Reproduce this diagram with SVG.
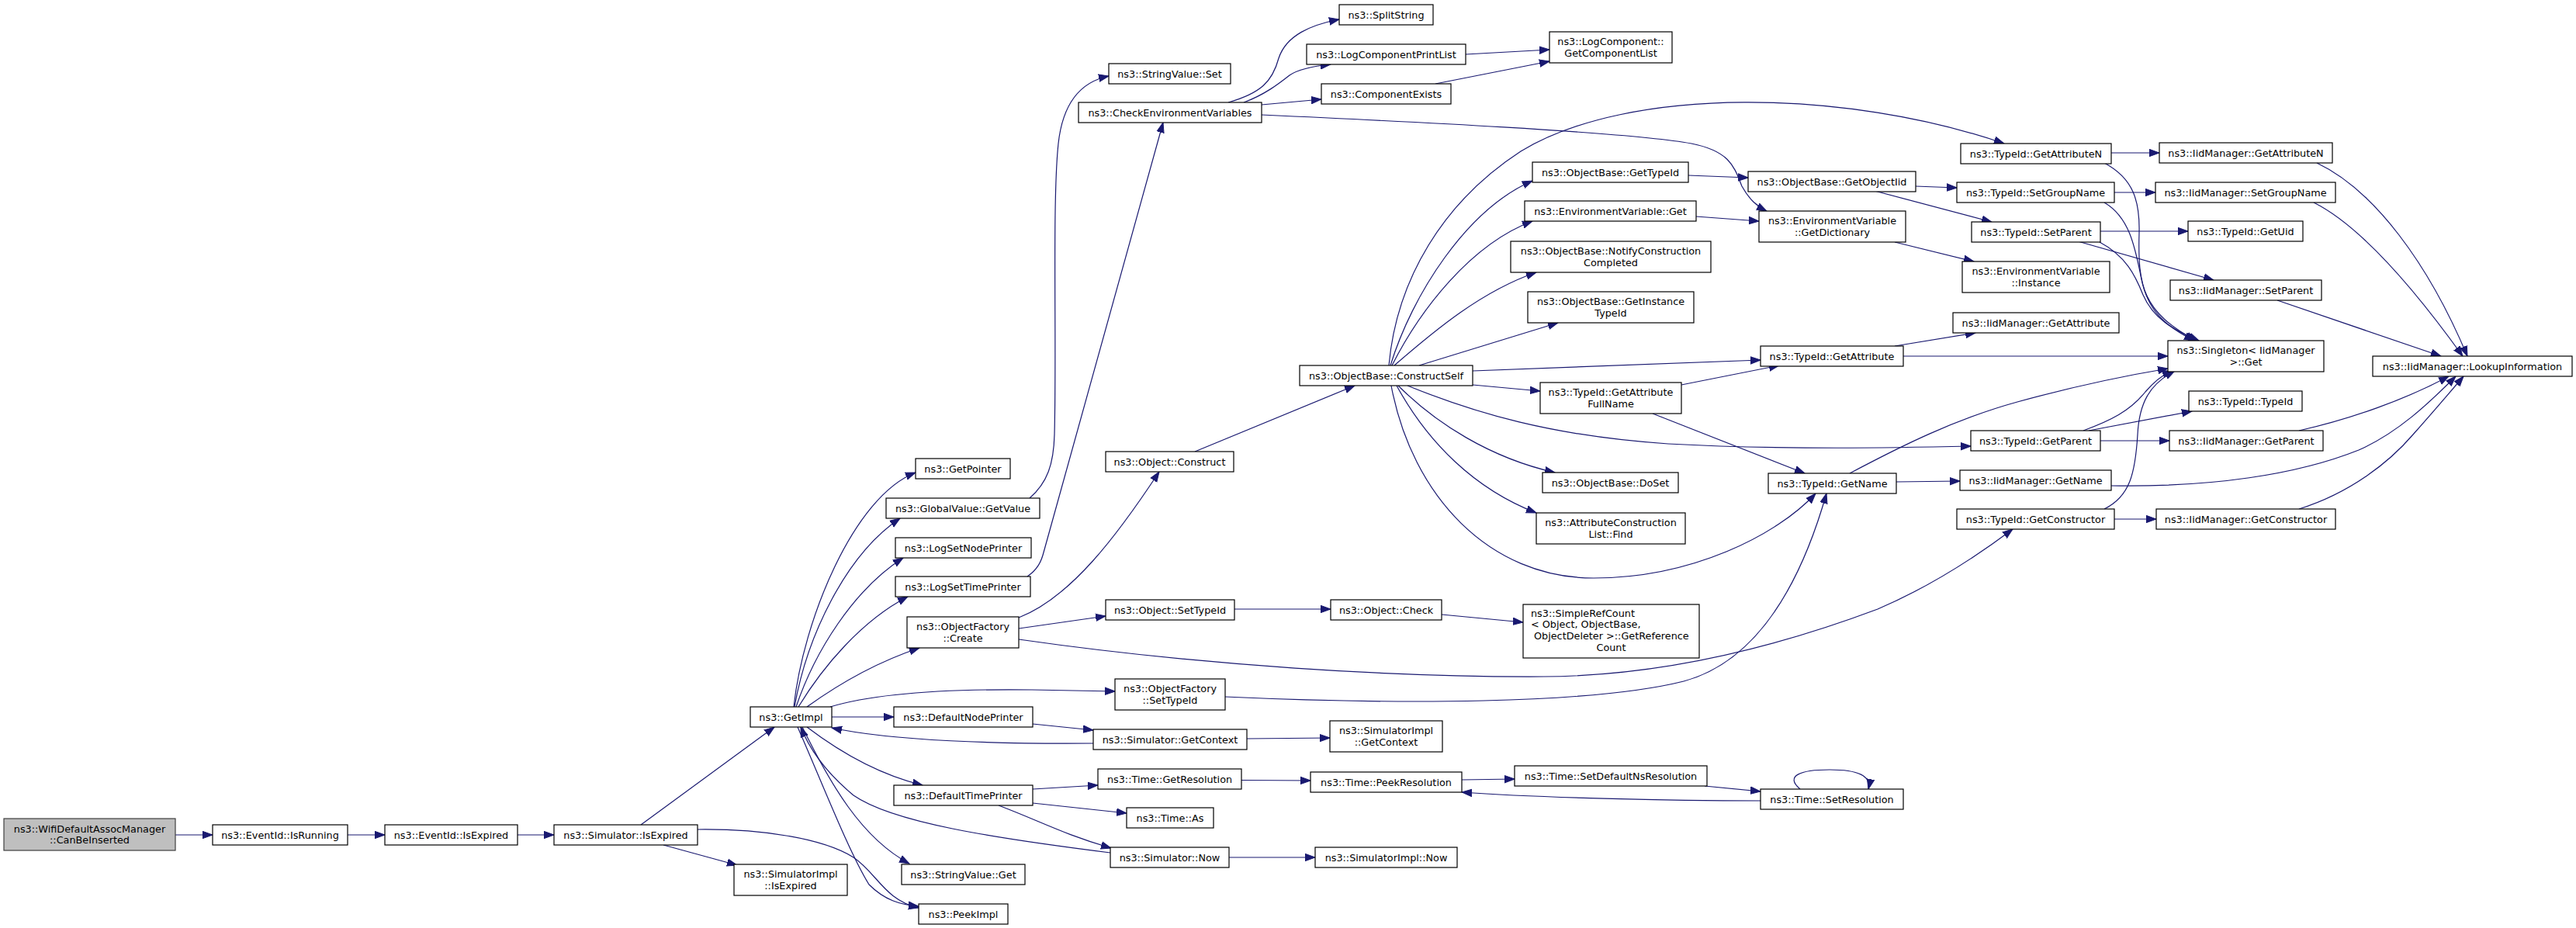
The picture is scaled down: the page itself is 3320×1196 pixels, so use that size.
<svg xmlns="http://www.w3.org/2000/svg" width="3320" height="1196" viewBox="0 0 3320 1196">
<style>
.n rect{fill:#fff;stroke:#000;stroke-width:1.2}
.n.root rect{fill:#bfbfbf;stroke:#404040}
text{font-family:"DejaVu Sans","Liberation Sans",sans-serif;font-size:12.8px;fill:#000;text-anchor:middle}
text.l{text-anchor:start}
#edges path{fill:none;stroke:#191970;stroke-width:1.2;marker-end:url(#a)}
</style>
<defs>
<marker id="a" markerUnits="userSpaceOnUse" markerWidth="14" markerHeight="11" viewBox="0 0 14 11" refX="13" refY="5.5" orient="auto">
<path d="M0,0.8 L13,5.5 L0,10.2 z" fill="#191970" stroke="#191970" stroke-width="1"/>
</marker>
</defs>
<rect width="3320" height="1196" fill="#fff"/>
<g id="edges">
<path d="M226,1076 L274,1076"/>
<path d="M448,1076 L496,1076"/>
<path d="M667,1076 L714,1076"/>
<path d="M826,1063 L998,937"/>
<path d="M855,1089 L950,1115"/>
<path d="M899,1069 C980,1068 1060,1080 1100,1105 C1130,1125 1140,1160 1184,1170"/>
<path d="M1028,937 C1060,1010 1095,1100 1120,1140 C1140,1160 1160,1166 1184,1168"/>
<path d="M1023,911 C1035,800 1100,640 1180,609"/>
<path d="M1024,911 C1040,820 1090,715 1160,668"/>
<path d="M1026,911 C1050,840 1100,760 1164,719"/>
<path d="M1029,911 C1060,860 1110,800 1170,769"/>
<path d="M1040,911 C1090,875 1140,850 1185,835"/>
<path d="M1070,911 C1140,890 1250,888 1330,889 L1437,891"/>
<path d="M1072,924 L1152,924"/>
<path d="M1331,933 L1409,941"/>
<path d="M1409,958 C1290,959 1150,955 1072,938"/>
<path d="M1607,952 L1714,951"/>
<path d="M1040,937 C1090,975 1140,1000 1189,1012"/>
<path d="M1331,1017 L1415,1012"/>
<path d="M1331,1035 L1452,1048"/>
<path d="M1287,1038 C1340,1058 1370,1075 1432,1093"/>
<path d="M1431,1099 C1280,1080 1150,1060 1100,1025 C1070,1000 1045,970 1032,937"/>
<path d="M1584,1105 L1695,1105"/>
<path d="M1034,937 C1070,1010 1110,1080 1172,1113"/>
<path d="M1600,1005.5 L1689,1006"/>
<path d="M1327,642 C1350,622 1358,598 1359,560 C1362,440 1356,260 1364,185 C1370,130 1395,105 1429,98"/>
<path d="M1324,743 C1337,734 1342,724 1345,712 L1499,158"/>
<path d="M1313,796 C1380,770 1440,690 1494,608"/>
<path d="M1313,810 L1425,794"/>
<path d="M1313,824 C1550,858 1800,873 1990,872 C2150,871 2300,830 2420,785 C2490,755 2550,715 2594,682"/>
<path d="M1540,582 L1746,497"/>
<path d="M1591,785 L1715,785"/>
<path d="M1858,792 L1963,802"/>
<path d="M1579,898 C1800,908 2050,908 2170,878 C2280,848 2330,720 2354,636"/>
<path d="M1790,471 C1800,360 1860,260 1960,195 C2100,110 2380,115 2583,185"/>
<path d="M1792,471 C1820,380 1890,270 1975,233"/>
<path d="M1794,471 C1830,400 1895,315 1975,285"/>
<path d="M1797,471 C1850,425 1910,375 1980,351"/>
<path d="M1829,471 L2008,416"/>
<path d="M1898,478 L2269,464"/>
<path d="M1898,496 L1985,504"/>
<path d="M1814,497 C1900,532 2000,562 2150,572 C2300,580 2450,577 2540,575"/>
<path d="M1802,497 C1850,545 1920,590 2004,609"/>
<path d="M1800,497 C1840,570 1900,630 1980,661"/>
<path d="M1793,497 C1820,640 1920,745 2054,745 C2180,745 2290,690 2340,636"/>
<path d="M1583,132 C1625,120 1640,105 1648,75 C1658,45 1690,32 1726,25"/>
<path d="M1603,132 C1630,122 1648,108 1662,97 C1675,88 1695,85 1715,83"/>
<path d="M1626,135 L1703,128"/>
<path d="M1626,148 C1800,156 2100,170 2180,185 C2230,195 2235,215 2245,240 C2255,258 2265,266 2277,272"/>
<path d="M1889,70 L1997,64"/>
<path d="M1850,108 L1997,79"/>
<path d="M2176,226 L2253,229"/>
<path d="M2186,279 L2267,285"/>
<path d="M2442,312 L2544,337"/>
<path d="M2469,240 L2522,242"/>
<path d="M2416,246 L2567,286"/>
<path d="M2442,446 L2546,429"/>
<path d="M2453,459 L2794,459"/>
<path d="M2167,496 L2293,471"/>
<path d="M2130,533 L2326,610"/>
<path d="M2384,610 C2450,575 2520,540 2600,518 C2680,496 2740,484 2794,475"/>
<path d="M2444,621 L2526,620"/>
<path d="M2721,197 L2783,197"/>
<path d="M2712,210 C2750,230 2758,260 2757,300 C2755,370 2762,402 2830,439"/>
<path d="M2725,248 L2778,248"/>
<path d="M2712,261 C2745,280 2752,320 2760,360 C2768,400 2790,420 2828,439"/>
<path d="M2707,298 L2820,298"/>
<path d="M2678,311 L2853,361"/>
<path d="M2706,312 C2740,330 2752,355 2762,380 C2775,410 2800,425 2834,439"/>
<path d="M2685,555 C2720,542 2745,530 2765,505 C2778,490 2788,482 2800,478"/>
<path d="M2712,656 C2745,640 2752,610 2755,560 C2757,520 2770,495 2803,478"/>
<path d="M2692,555 L2825,530"/>
<path d="M2707,568 L2796,568"/>
<path d="M2725,669 L2779,669"/>
<path d="M2986,210 C3060,245 3130,340 3180,459"/>
<path d="M2982,261 C3040,290 3110,370 3174,459"/>
<path d="M2935,387 L3146,459"/>
<path d="M2963,555 C3030,540 3100,515 3156,485"/>
<path d="M2721,626 C2850,628 2960,612 3040,580 C3090,558 3130,520 3165,485"/>
<path d="M2963,656 C3030,635 3080,595 3110,560 C3135,532 3158,505 3175,485"/>
<path d="M1884,1005 L1952,1004"/>
<path d="M2197,1013 L2269,1020"/>
<path d="M2269,1032 C2150,1032 1980,1028 1884,1021"/>
<path d="M2320,1017 C2300,1000 2320,992 2358,992 C2395,992 2412,1000 2408,1017"/>
</g>
<g id="n1" class="n root"><rect x="5" y="1055" width="221" height="41"/><text x="115.5" y="1072.5">ns3::WifiDefaultAssocManager</text><text x="115.5" y="1087">::CanBeInserted</text></g>
<g id="n2" class="n"><rect x="274" y="1063" width="174" height="26"/><text x="361" y="1080.5">ns3::EventId::IsRunning</text></g>
<g id="n3" class="n"><rect x="496" y="1063" width="171" height="26"/><text x="581.5" y="1080.5">ns3::EventId::IsExpired</text></g>
<g id="n4" class="n"><rect x="714" y="1063" width="185" height="26"/><text x="806.5" y="1080.5">ns3::Simulator::IsExpired</text></g>
<g id="n5" class="n"><rect x="967" y="911" width="105" height="26"/><text x="1019.5" y="928.5">ns3::GetImpl</text></g>
<g id="n6" class="n"><rect x="946" y="1114" width="146" height="40"/><text x="1019" y="1131">ns3::SimulatorImpl</text><text x="1019" y="1145.5">::IsExpired</text></g>
<g id="n7" class="n"><rect x="1180" y="591" width="122" height="26"/><text x="1241" y="608.5">ns3::GetPointer</text></g>
<g id="n8" class="n"><rect x="1142" y="642" width="198" height="26"/><text x="1241" y="659.5">ns3::GlobalValue::GetValue</text></g>
<g id="n9" class="n"><rect x="1154" y="693" width="175" height="26"/><text x="1241.5" y="710.5">ns3::LogSetNodePrinter</text></g>
<g id="n10" class="n"><rect x="1154" y="743" width="174" height="26"/><text x="1241" y="760.5">ns3::LogSetTimePrinter</text></g>
<g id="n11" class="n"><rect x="1169" y="795" width="144" height="40"/><text x="1241" y="812">ns3::ObjectFactory</text><text x="1241" y="826.5">::Create</text></g>
<g id="n12" class="n"><rect x="1425" y="582" width="165" height="26"/><text x="1507.5" y="599.5">ns3::Object::Construct</text></g>
<g id="n13" class="n"><rect x="1425" y="773" width="166" height="26"/><text x="1508" y="790.5">ns3::Object::SetTypeId</text></g>
<g id="n14" class="n"><rect x="1715" y="773" width="143" height="26"/><text x="1786.5" y="790.5">ns3::Object::Check</text></g>
<g id="n15" class="n"><rect x="1437" y="875" width="142" height="40"/><text x="1508" y="892">ns3::ObjectFactory</text><text x="1508" y="906.5">::SetTypeId</text></g>
<g id="n16" class="n"><rect x="1152" y="911" width="179" height="26"/><text x="1241.5" y="928.5">ns3::DefaultNodePrinter</text></g>
<g id="n17" class="n"><rect x="1409" y="940" width="198" height="26"/><text x="1508" y="957.5">ns3::Simulator::GetContext</text></g>
<g id="n18" class="n"><rect x="1714" y="929" width="145" height="40"/><text x="1786.5" y="946">ns3::SimulatorImpl</text><text x="1786.5" y="960.5">::GetContext</text></g>
<g id="n19" class="n"><rect x="1415" y="991" width="185" height="26"/><text x="1507.5" y="1008.5">ns3::Time::GetResolution</text></g>
<g id="n20" class="n"><rect x="1689" y="995" width="195" height="26"/><text x="1786.5" y="1012.5">ns3::Time::PeekResolution</text></g>
<g id="n21" class="n"><rect x="1152" y="1012" width="179" height="26"/><text x="1241.5" y="1029.5">ns3::DefaultTimePrinter</text></g>
<g id="n22" class="n"><rect x="1452" y="1041" width="112" height="26"/><text x="1508" y="1058.5">ns3::Time::As</text></g>
<g id="n23" class="n"><rect x="1431" y="1092" width="153" height="26"/><text x="1507.5" y="1109.5">ns3::Simulator::Now</text></g>
<g id="n24" class="n"><rect x="1695" y="1092" width="183" height="26"/><text x="1786.5" y="1109.5">ns3::SimulatorImpl::Now</text></g>
<g id="n25" class="n"><rect x="1162" y="1114" width="159" height="26"/><text x="1241.5" y="1131.5">ns3::StringValue::Get</text></g>
<g id="n26" class="n"><rect x="1184" y="1165" width="115" height="26"/><text x="1241.5" y="1182.5">ns3::PeekImpl</text></g>
<g id="n27" class="n"><rect x="1726" y="6" width="121" height="26"/><text x="1786.5" y="23.5">ns3::SplitString</text></g>
<g id="n28" class="n"><rect x="1684" y="57" width="205" height="26"/><text x="1786.5" y="74.5">ns3::LogComponentPrintList</text></g>
<g id="n29" class="n"><rect x="1429" y="82" width="157" height="26"/><text x="1507.5" y="99.5">ns3::StringValue::Set</text></g>
<g id="n30" class="n"><rect x="1703" y="108" width="167" height="26"/><text x="1786.5" y="125.5">ns3::ComponentExists</text></g>
<g id="n31" class="n"><rect x="1390" y="132" width="236" height="26"/><text x="1508" y="149.5">ns3::CheckEnvironmentVariables</text></g>
<g id="n32" class="n"><rect x="1675" y="471" width="223" height="26"/><text x="1786.5" y="488.5">ns3::ObjectBase::ConstructSelf</text></g>
<g id="n33" class="n"><rect x="1997" y="41" width="158" height="40"/><text x="2076" y="58">ns3::LogComponent::</text><text x="2076" y="72.5">GetComponentList</text></g>
<g id="n34" class="n"><rect x="1975" y="209" width="201" height="26"/><text x="2075.5" y="226.5">ns3::ObjectBase::GetTypeId</text></g>
<g id="n35" class="n"><rect x="2253" y="221" width="216" height="26"/><text x="2361" y="238.5">ns3::ObjectBase::GetObjectIid</text></g>
<g id="n36" class="n"><rect x="1965" y="259" width="221" height="26"/><text x="2075.5" y="276.5">ns3::EnvironmentVariable::Get</text></g>
<g id="n37" class="n"><rect x="2267" y="272" width="189" height="40"/><text x="2361.5" y="289">ns3::EnvironmentVariable</text><text x="2361.5" y="303.5">::GetDictionary</text></g>
<g id="n38" class="n"><rect x="1947" y="311" width="258" height="40"/><text x="2076" y="328">ns3::ObjectBase::NotifyConstruction</text><text x="2076" y="342.5">Completed</text></g>
<g id="n39" class="n"><rect x="1969" y="376" width="214" height="40"/><text x="2076" y="393">ns3::ObjectBase::GetInstance</text><text x="2076" y="407.5">TypeId</text></g>
<g id="n40" class="n"><rect x="2269" y="446" width="184" height="26"/><text x="2361" y="463.5">ns3::TypeId::GetAttribute</text></g>
<g id="n41" class="n"><rect x="1985" y="493" width="182" height="40"/><text x="2076" y="510">ns3::TypeId::GetAttribute</text><text x="2076" y="524.5">FullName</text></g>
<g id="n42" class="n"><rect x="2527" y="185" width="194" height="26"/><text x="2624" y="202.5">ns3::TypeId::GetAttributeN</text></g>
<g id="n43" class="n"><rect x="2522" y="235" width="203" height="26"/><text x="2623.5" y="252.5">ns3::TypeId::SetGroupName</text></g>
<g id="n44" class="n"><rect x="2541" y="286" width="166" height="26"/><text x="2624" y="303.5">ns3::TypeId::SetParent</text></g>
<g id="n45" class="n"><rect x="2529" y="337" width="190" height="40"/><text x="2624" y="354">ns3::EnvironmentVariable</text><text x="2624" y="368.5">::Instance</text></g>
<g id="n46" class="n"><rect x="2517" y="403" width="214" height="26"/><text x="2624" y="420.5">ns3::IidManager::GetAttribute</text></g>
<g id="n47" class="n"><rect x="2540" y="555" width="167" height="26"/><text x="2623.5" y="572.5">ns3::TypeId::GetParent</text></g>
<g id="n48" class="n"><rect x="2526" y="606" width="195" height="26"/><text x="2623.5" y="623.5">ns3::IidManager::GetName</text></g>
<g id="n49" class="n"><rect x="2522" y="656" width="203" height="26"/><text x="2623.5" y="673.5">ns3::TypeId::GetConstructor</text></g>
<g id="n50" class="n"><rect x="2279" y="610" width="165" height="26"/><text x="2361.5" y="627.5">ns3::TypeId::GetName</text></g>
<g id="n51" class="n"><rect x="2783" y="184" width="223" height="26"/><text x="2894.5" y="201.5">ns3::IidManager::GetAttributeN</text></g>
<g id="n52" class="n"><rect x="2778" y="235" width="232" height="26"/><text x="2894" y="252.5">ns3::IidManager::SetGroupName</text></g>
<g id="n53" class="n"><rect x="2820" y="285" width="148" height="26"/><text x="2894" y="302.5">ns3::TypeId::GetUid</text></g>
<g id="n54" class="n"><rect x="2797" y="361" width="195" height="26"/><text x="2894.5" y="378.5">ns3::IidManager::SetParent</text></g>
<g id="n55" class="n"><rect x="2794" y="439" width="201" height="40"/><text x="2894.5" y="456">ns3::Singleton&lt; IidManager</text><text x="2894.5" y="470.5">&gt;::Get</text></g>
<g id="n56" class="n"><rect x="3058" y="459" width="257" height="26"/><text x="3186.5" y="476.5">ns3::IidManager::LookupInformation</text></g>
<g id="n57" class="n"><rect x="2821" y="504" width="146" height="26"/><text x="2894" y="521.5">ns3::TypeId::TypeId</text></g>
<g id="n58" class="n"><rect x="2796" y="555" width="198" height="26"/><text x="2895" y="572.5">ns3::IidManager::GetParent</text></g>
<g id="n59" class="n"><rect x="2779" y="656" width="231" height="26"/><text x="2894.5" y="673.5">ns3::IidManager::GetConstructor</text></g>
<g id="n60" class="n"><rect x="1988" y="609" width="175" height="26"/><text x="2075.5" y="626.5">ns3::ObjectBase::DoSet</text></g>
<g id="n61" class="n"><rect x="1980" y="661" width="192" height="40"/><text x="2076" y="678">ns3::AttributeConstruction</text><text x="2076" y="692.5">List::Find</text></g>
<g id="n62" class="n"><rect x="1963" y="779" width="227" height="69"/><text class="l" x="1973" y="794.7">ns3::SimpleRefCount</text><text class="l" x="1973" y="808.8">&lt; Object, ObjectBase,</text><text class="l" x="1977" y="823.8">ObjectDeleter &gt;::GetReference</text><text x="2076.5" y="838.7">Count</text></g>
<g id="n63" class="n"><rect x="1952" y="987" width="248" height="26"/><text x="2076" y="1004.5">ns3::Time::SetDefaultNsResolution</text></g>
<g id="n64" class="n"><rect x="2269" y="1017" width="184" height="26"/><text x="2361" y="1034.5">ns3::Time::SetResolution</text></g>
</svg>
